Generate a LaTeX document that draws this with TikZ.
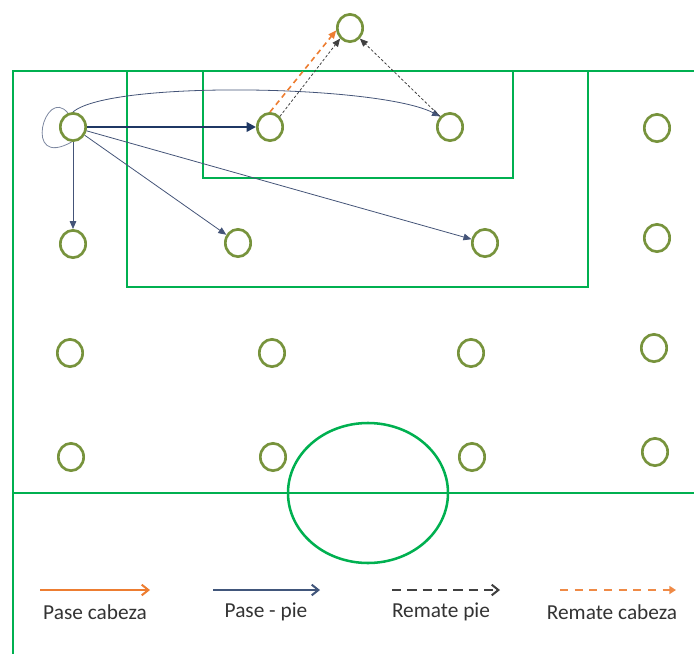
\documentclass[tikz,border=0pt]{standalone}
\usepackage{fontspec}
\setmainfont{Carlito}
\usetikzlibrary{arrows.meta,shapes.geometric}

\definecolor{campo}{RGB}{0,176,80}
\definecolor{verdejug}{RGB}{119,147,60}
\definecolor{azul}{RGB}{31,56,100}
\definecolor{azulclaro}{RGB}{68,84,120}
\definecolor{naranja}{RGB}{237,125,49}
\definecolor{grisosc}{RGB}{64,64,64}

\tikzset{
  jug/.style={ellipse,draw=verdejug,fill=white,line width=2pt,minimum width=19pt,minimum height=20.5pt,inner sep=0pt},
  linea/.style={draw=campo,line width=1.9pt},
  pase/.style={draw=azulclaro,line width=0.6pt,-{Triangle[length=6pt,width=5pt]}},
  pasefuerte/.style={draw=azul,line width=1.8pt,-{Triangle[length=7pt,width=7pt]}},
  lazo/.style={draw=azulclaro!70,line width=0.6pt},
  rematepie/.style={draw=grisosc,line width=0.6pt,dash pattern=on 2pt off 1.5pt,-{Triangle[length=6pt,width=5pt]}},
  rematecab/.style={draw=naranja,line width=1.2pt,dash pattern=on 4pt off 3pt,-{Triangle[length=6pt,width=5pt]}},
  leyenda/.style={font=\fontsize{16}{18}\selectfont,text=black!80,inner sep=0pt},
}

\begin{document}
\begin{tikzpicture}[x=0.75pt,y=0.75pt,yscale=-1,xscale=1]
\useasboundingbox (0,0) rectangle (694,654);

% campo
\draw[linea] (694,71) -- (13,71) -- (13,654);
\draw[linea] (13,493) -- (694,493);
\draw[linea] (127,71) rectangle (588,287);
\draw[linea] (203,71) rectangle (513,178);
\draw[linea] (368,493) ellipse [x radius=80, y radius=70];

% jugadores
\node[jug] (arriba) at (350,28) {};
\node[jug] (j11) at (73,127) {};
\node[jug] (j12) at (270,127) {};
\node[jug] (j13) at (450,127) {};
\node[jug] (j14) at (657,128) {};
\node[jug] (j21) at (73,244) {};
\node[jug] (j22) at (238,243) {};
\node[jug] (j23) at (485,243) {};
\node[jug] (j24) at (657,238) {};
\node[jug] (j31) at (70,353) {};
\node[jug] (j32) at (272,353) {};
\node[jug] (j33) at (471,353) {};
\node[jug] (j34) at (654,348) {};
\node[jug] (j41) at (71,457) {};
\node[jug] (j42) at (273,457) {};
\node[jug] (j43) at (472,457) {};
\node[jug] (j44) at (655,452) {};

% pases
\draw[lazo] (j11.110) .. controls (45,85) and (22,170) .. (j11.265);
\draw[pasefuerte] (j11) -- (j12);
\draw[pase] (j11) -- (j21);
\draw[pase] (j11) -- (j22);
\draw[pase] (j11) -- (j23);
\draw[pase] (j11.north) .. controls (110,80) and (380,85) .. (j13.north west);

% remates
\draw[rematecab] (j12.north) -- (arriba.190);
\draw[rematepie] (j12.north east) -- (arriba.south west);
\draw[rematepie] (j13.north west) -- (arriba.south east);

% leyenda
\coordinate (l1a) at (40,590); \coordinate (l1b) at (150,590);
\coordinate (l2a) at (213,590); \coordinate (l2b) at (320,590);
\coordinate (l3a) at (392,590); \coordinate (l3b) at (500,590);
\coordinate (l4a) at (560,590); \coordinate (l4b) at (676,590);
\draw[draw=naranja,line width=1.5pt,-{Straight Barb[length=5pt,width=8pt]}] (l1a) -- (l1b);
\draw[draw=azul!85,line width=1.5pt,-{Straight Barb[length=5pt,width=8pt]}] (l2a) -- (l2b);
\draw[draw=grisosc,line width=1.5pt,dash pattern=on 7pt off 4.5pt,-{Straight Barb[length=5pt,width=8pt]}] (l3a) -- (l3b);
\draw[draw=naranja!90,line width=1.5pt,dash pattern=on 6pt off 5pt,-{Triangle[length=5pt,width=6pt]}] (l4a) -- (l4b);
\node[leyenda] (t1) at (95,612) {Pase cabeza};
\node[leyenda] (t2) at (266,612) {Pase - pie};
\node[leyenda] (t3) at (441,612) {Remate pie};
\node[leyenda] (t4) at (612,612) {Remate cabeza};

\end{tikzpicture}
\end{document}
